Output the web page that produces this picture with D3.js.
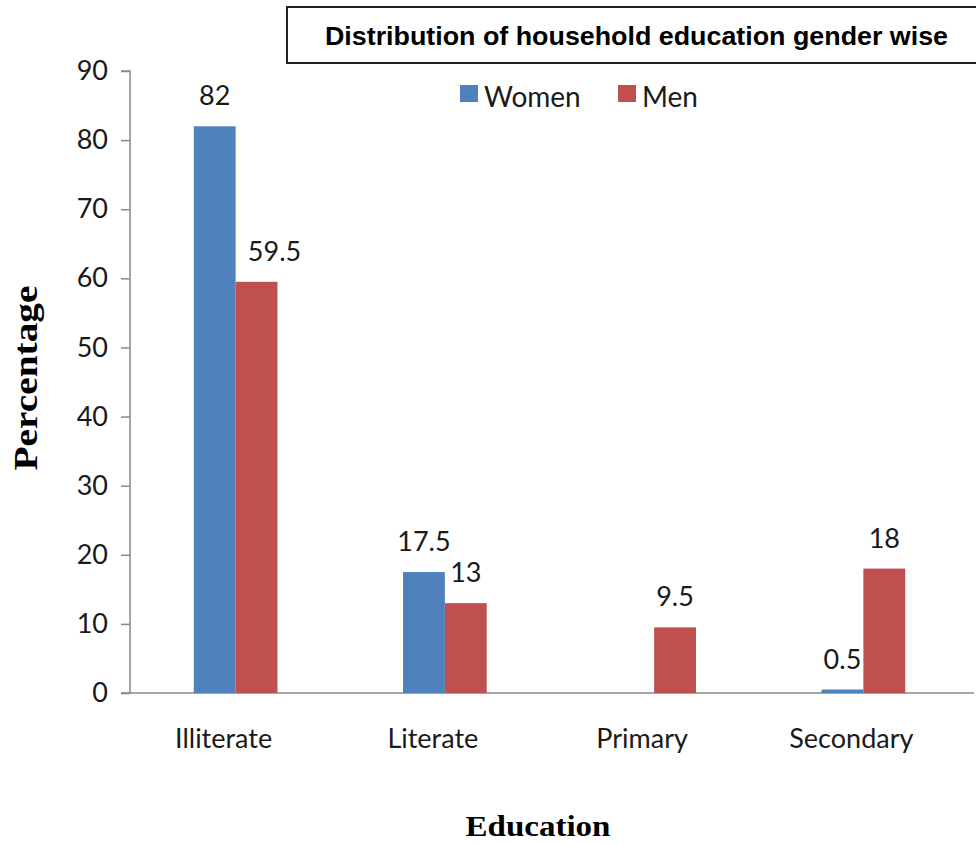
<!DOCTYPE html>
<html>
<head>
<meta charset="utf-8">
<script src="https://cdn.jsdelivr.net/npm/d3@7"></script>
<style>
  html, body { margin: 0; padding: 0; background: #fff; }
  svg { display: block; }
</style>
</head>
<body>
<svg id="chart" width="976" height="844"></svg>
<script>
// Household education by gender (percentage)
const categories = ["Illiterate", "Literate", "Primary", "Secondary"];
const seriesNames = ["Women", "Men"];
const women = [82, 17.5, 0, 0.5];
const men = [59.5, 13, 9.5, 18];
const yTicks = [0, 10, 20, 30, 40, 50, 60, 70, 80, 90];
const colors = ["#4F81BD", "#C0504D"];
const valueLabels = [["82", "17.5", "", "0.5"], ["59.5", "13", "9.5", "18"]];

const svg = d3.select("#chart");
const labelFont = "Lato, 'Open Sans', 'Noto Sans', sans-serif";
const textColor = "#1a1a1a";

const x = d3.scaleBand().domain(categories).range([131, 968]).paddingInner(0.6).paddingOuter(0.3);
const xSub = d3.scaleBand().domain(seriesNames).range([0, x.bandwidth()]);
const y = d3.scaleLinear().domain([0, 90]).range([693, 71]);

// Y axis
const yAxis = svg.append("g")
  .attr("transform", "translate(130,0)")
  .call(d3.axisLeft(y).tickValues(yTicks).tickSize(9).tickPadding(13));
yAxis.select(".domain").attr("stroke", "#888").attr("stroke-width", 1.5).attr("d", "M-9,71H0V693");
yAxis.selectAll(".tick line").attr("stroke", "#888").attr("stroke-width", 1.5);
yAxis.selectAll(".tick text")
  .attr("font-family", labelFont).attr("font-size", 27).attr("fill", textColor);

// X axis line
svg.append("line")
  .attr("x1", 121).attr("x2", 974)
  .attr("y1", y(0)).attr("y2", y(0))
  .attr("stroke", "#888").attr("stroke-width", 1.5);

// X category labels, set slightly left of each group's centre
svg.append("g").selectAll("text").data(categories).join("text")
  .attr("x", d => x(d) + x.bandwidth() / 2)
  .attr("dx", -12)
  .attr("y", 748)
  .attr("text-anchor", "middle")
  .attr("font-family", labelFont).attr("font-size", 27).attr("fill", textColor)
  .text(d => d);

// Bars with value labels (the Illiterate men label sits nudged right of its bar)
const seriesData = [women, men];
const labelNudge = { "Men|Illiterate": 18 };
seriesNames.forEach((name, si) => {
  const g = svg.append("g");
  g.selectAll("rect").data(categories).join("rect")
    .attr("x", d => x(d) + xSub(name))
    .attr("y", (d, i) => y(seriesData[si][i]))
    .attr("width", xSub.bandwidth())
    .attr("height", (d, i) => y(0) - y(seriesData[si][i]))
    .attr("fill", colors[si]);
  g.selectAll("text").data(categories).join("text")
    .attr("x", d => x(d) + xSub(name) + xSub.bandwidth() / 2 + (labelNudge[name + "|" + d] || 0))
    .attr("y", (d, i) => y(seriesData[si][i]) - 21)
    .attr("text-anchor", "middle")
    .attr("font-family", labelFont).attr("font-size", 27).attr("fill", textColor)
    .text((d, i) => valueLabels[si][i]);
});

// Legend
const legend = svg.append("g");
const legendPos = [460, 618];
seriesNames.forEach((name, i) => {
  legend.append("rect").attr("x", legendPos[i]).attr("y", 85)
    .attr("width", 18).attr("height", 17).attr("fill", colors[i]);
  legend.append("text").attr("x", legendPos[i] + 24).attr("y", 107)
    .attr("font-family", labelFont).attr("font-size", 28).attr("fill", textColor)
    .text(name);
});

// Title box
svg.append("rect").attr("x", 287).attr("y", 7).attr("width", 700).attr("height", 56)
  .attr("fill", "#fff").attr("stroke", "#222").attr("stroke-width", 2);
svg.append("text").attr("x", 325).attr("y", 45)
  .attr("textLength", 623).attr("lengthAdjust", "spacingAndGlyphs")
  .attr("font-family", "'Liberation Sans', Arial, sans-serif")
  .attr("font-weight", "bold").attr("font-size", 25).attr("fill", "#000")
  .text("Distribution of household education gender wise");

// Axis titles
svg.append("text")
  .attr("transform", "translate(37,378) rotate(-90)")
  .attr("text-anchor", "middle")
  .attr("textLength", 185).attr("lengthAdjust", "spacingAndGlyphs")
  .attr("font-family", "'Liberation Serif', 'DejaVu Serif', serif")
  .attr("font-weight", "bold").attr("font-size", 33).attr("fill", "#000")
  .text("Percentage");
svg.append("text")
  .attr("x", 538).attr("y", 836)
  .attr("text-anchor", "middle")
  .attr("textLength", 145).attr("lengthAdjust", "spacingAndGlyphs")
  .attr("font-family", "'Liberation Serif', 'DejaVu Serif', serif")
  .attr("font-weight", "bold").attr("font-size", 30).attr("fill", "#000")
  .text("Education");
</script>
</body>
</html>
